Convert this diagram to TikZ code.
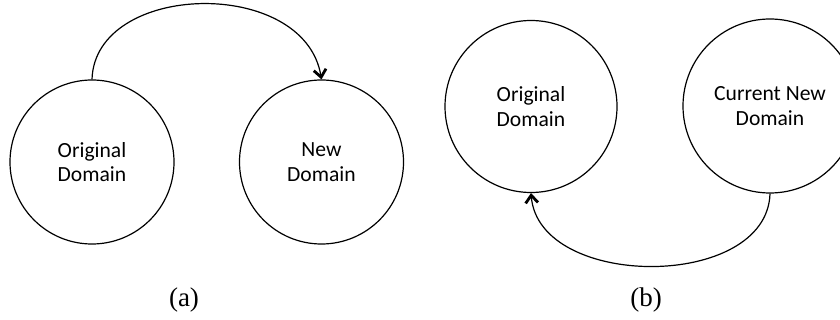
\documentclass[tikz,border=0pt]{standalone}
\usepackage{fontspec}
\setmainfont{Liberation Serif}
\newfontfamily\calib{Carlito}
\usetikzlibrary{arrows.meta}
\begin{document}
\begin{tikzpicture}[x=0.5pt,y=-0.5pt,
  dom/.style={circle,draw,line width=0.6pt,inner sep=0pt,minimum size=#1*0.5pt,align=center,
    font=\calib\fontsize{10.8}{12.3}\selectfont},
  conn/.style={line width=0.6pt,-{Straight Barb[length=3.8pt,width=6.2pt,line width=1.4pt]}},
  lab/.style={font=\fontsize{13.5}{15}\selectfont}]
\useasboundingbox (0,0) rectangle (840,320);
% (a)
\node[dom=164] (ao) at (92,162) {Original\\Domain};
\node[dom=164] (an) at (321.5,162) {New\\Domain};
\draw[conn] (ao.north) .. controls +(3,-98) and +(-17,-103) .. (an.north);
\node[lab] (la) at (184,300) {(a)};
% (b)
\node[dom=172] (bo) at (531,106.5) {Original\\Domain};
\node[dom=174] (bn) at (770,106) {Current New\\Domain};
\draw[conn] (bn.south) .. controls +(-3,97) and +(8,97) .. (bo.south);
\node[lab] (lb) at (646,300) {(b)};
\end{tikzpicture}
\end{document}
